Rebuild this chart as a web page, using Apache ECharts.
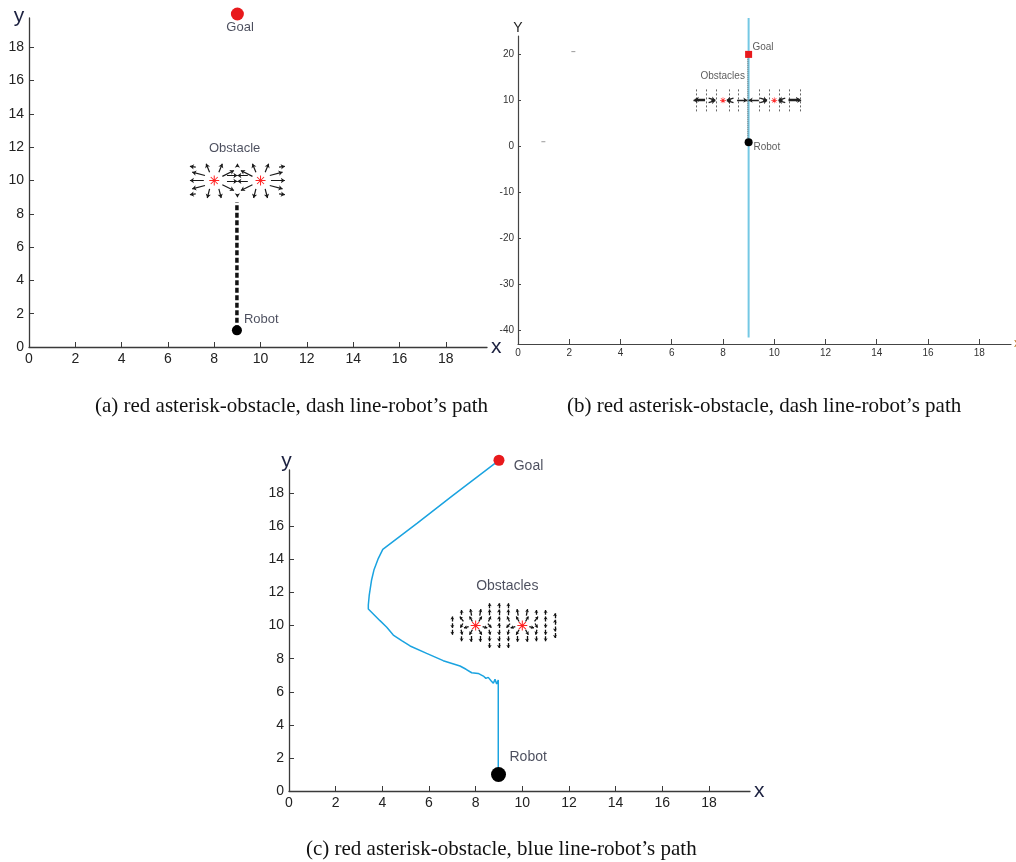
<!DOCTYPE html>
<html><head><meta charset="utf-8">
<script src="https://cdn.jsdelivr.net/npm/echarts@6/dist/echarts.min.js"></script>
<style>html,body{margin:0;padding:0;background:#fff}#c{width:1016px;height:862px}</style>
</head><body><div id="c"></div>
<script>
// ---------- data ----------
const xTickValues = [0, 2, 4, 6, 8, 10, 12, 14, 16, 18];
const yTickValuesAC = [0, 2, 4, 6, 8, 10, 12, 14, 16, 18];
const yTickValuesB = [-40, -30, -20, -10, 0, 10, 20];
const goalPoint = [9, 20];
const robotPoint = [8.98, 1];
const obstaclePoints = [[8, 10], [10, 10]];
const captionTexts = [
  '(a) red asterisk-obstacle, dash line-robot\u2019s path',
  '(b) red asterisk-obstacle, dash line-robot\u2019s path',
  '(c) red asterisk-obstacle, blue line-robot\u2019s path'
];

// (a) dashed path and radial repulsion arrows [x0, y0, x1, y1]
const pathA = [[8.98, 1], [8.98, 8.7]];
const quiverA = [
  [7.55,10.0,6.95,10.0],[7.6,10.3,7.05,10.5],[7.6,9.7,7.05,9.5],[7.2,10.8,6.95,10.85],[7.2,9.2,6.95,9.15],
  [7.8,10.5,7.65,11.0],[8.2,10.5,8.35,11.0],[7.8,9.5,7.7,8.95],[8.2,9.5,8.3,8.95],
  [8.35,10.25,8.85,10.6],[8.35,9.75,8.85,9.4],[8.55,10.3,9.0,10.3],[8.55,9.95,9.0,9.95],
  [10.45,10.0,11.05,10.0],[10.4,10.3,10.95,10.5],[10.4,9.7,10.95,9.5],[10.8,10.8,11.05,10.85],[10.8,9.2,11.05,9.15],
  [10.2,10.5,10.35,11.0],[9.8,10.5,9.65,11.0],[10.2,9.5,10.3,8.95],[9.8,9.5,9.7,8.95],
  [9.65,10.25,9.15,10.6],[9.65,9.75,9.15,9.4],[9.45,10.3,9.0,10.3],[9.45,9.95,9.0,9.95],
  [9.0,10.85,9.0,11.0],[9.0,9.15,9.0,9.0]
];
const labelsA = [['Goal', 8.5, 19.2], ['Obstacle', 7.75, 11.92], ['Robot', 9.26, 1.66]];

// (b)
const pathB = [[9, 27.9], [9, -41.6]];
const trailB = [[8.97, 1], [8.97, 19.5]];
const fieldColsB = [6.95, 7.35, 7.75, 8.25, 8.6, 9.4, 9.8, 10.2, 10.6, 11.0];
const fieldSpanB = [7.6, 12.8];
const quiverB = [
  [7.3,10.0,6.85,10.0],[7.3,10.2,6.9,10.2],[7.44,10.5,7.7,10.05],[7.44,9.5,7.7,9.95],
  [8.41,10.5,8.15,10.05],[8.41,9.5,8.15,9.95],[8.55,10.05,8.95,10.05],[9.4,10.05,9.0,10.05],
  [9.45,10.5,9.72,10.05],[9.45,9.5,9.72,9.95],[10.43,10.5,10.17,10.05],[10.43,9.5,10.17,9.95],
  [10.56,10.0,11.05,10.0],[10.56,10.2,11.0,10.2]
];
const strayB = [[2.16, 20.6], [0.99, 1.0]];
const labelsB = [['Goal', 9.13, 21.6], ['Obstacles', 7.1, 15.2], ['Robot', 9.17, -0.2]];

// (c) robot path and field arrows [x, y, dx, dy] (centred)
const pathC = [[8.97,1],[8.97,6.71],[8.9,6.47],[8.83,6.75],[8.76,6.51],[8.66,6.67],[8.54,6.87],[8.44,6.81],
  [8.33,6.95],[8.11,7.11],[7.83,7.15],[7.59,7.36],[7.33,7.56],[6.61,7.88],[5.9,8.32],[5.19,8.77],[4.83,9.09],
  [4.47,9.43],[4.19,9.9],[3.9,10.3],[3.4,11.0],[3.4,11.25],[3.44,11.85],[3.54,12.76],[3.64,13.36],[3.83,14.07],
  [4.02,14.61],[5.5,16.2],[7.0,17.85],[8.97,19.96]];
const quiverC = [
  [7.0,9.6,0,-0.3],[7.0,10.0,0,-0.3],[7.0,10.4,0,0.3],
  [7.4,9.2,0,-0.3],[7.4,9.6,0.05,-0.3],[7.4,10.0,-0.1,-0.25],[7.4,10.4,-0.15,0.3],[7.4,10.8,0,0.3],
  [7.8,9.2,0,-0.35],[7.8,9.6,-0.12,-0.3],[7.8,10.4,-0.12,0.3],[7.8,10.8,-0.05,0.4],
  [7.6,9.9,-0.2,-0.08],[8.4,9.9,0.2,-0.08],
  [8.2,9.2,0,-0.35],[8.2,9.6,0.12,-0.3],[8.2,10.4,0.12,0.3],[8.2,10.8,0.05,0.4],
  [8.6,8.8,0,-0.3],[8.6,9.2,0,-0.3],[8.6,9.6,0.05,-0.3],[8.6,10.0,0.15,-0.25],[8.6,10.4,0.1,0.3],[8.6,10.8,0,0.35],[8.6,11.2,0,0.3],
  [9.0,8.8,0,-0.3],[9.0,9.2,0,-0.3],[9.0,9.6,0,-0.3],[9.0,10.0,0,0.3],[9.0,10.4,0,0.3],[9.0,10.8,0,0.35],[9.0,11.2,0,0.3],
  [9.4,8.8,0,-0.3],[9.4,9.2,0,-0.3],[9.4,9.6,-0.05,-0.3],[9.4,10.0,-0.15,-0.25],[9.4,10.4,-0.1,0.3],[9.4,10.8,0,0.35],[9.4,11.2,0,0.3],
  [9.8,9.2,0,-0.35],[9.8,9.6,-0.12,-0.3],[9.8,10.4,-0.12,0.3],[9.8,10.8,-0.05,0.4],
  [9.6,9.9,-0.2,-0.08],[10.4,9.9,0.2,-0.08],
  [10.2,9.2,0,-0.35],[10.2,9.6,0.12,-0.3],[10.2,10.4,0.12,0.3],[10.2,10.8,0.05,0.4],
  [10.6,9.2,0,-0.3],[10.6,9.6,-0.05,-0.3],[10.6,10.0,0.1,-0.25],[10.6,10.4,0.15,0.3],[10.6,10.8,0,0.3],
  [11.0,9.2,0,-0.3],[11.0,9.6,0,-0.3],[11.0,10.0,0,-0.25],[11.0,10.4,0,0.3],[11.0,10.8,0,0.3],
  [11.4,9.4,0,-0.3],[11.4,9.8,0,-0.3],[11.4,10.2,0,0.3],[11.4,10.6,0,0.3]
];
const labelsC = [['Goal', 9.61, 19.66], ['Obstacles', 8.0, 12.36], ['Robot', 9.43, 2.04]];

// ---------- chart ----------
const fontSans = '"Liberation Sans", Arial, sans-serif';
const fontNarrow = '"Liberation Sans Narrow", "Arial Narrow", "Liberation Sans", sans-serif';
const captionFont = '21px "Liberation Serif", "Times New Roman", serif';
const asterisk = 'path://M-1,-10 L1,-10 L1,10 L-1,10 Z M-10,-1 L10,-1 L10,1 L-10,1 Z M-6.3,-7.7 L7.7,6.3 L6.3,7.7 L-7.7,-6.3 Z M6.3,-7.7 L7.7,-6.3 L-6.3,7.7 L-7.7,6.3 Z';

function xAxisCfg(gi, max, o) {
  return {
    type: 'value', gridIndex: gi, min: 0, max: max,
    name: o.name, nameLocation: 'end', nameGap: o.nameGap, nameTextStyle: o.nameStyle,
    axisLine: {show: true, onZero: false, lineStyle: {color: o.line, width: o.lw}},
    axisTick: {show: true, inside: true, length: o.tick, lineStyle: {color: o.line, width: 1}, customValues: xTickValues},
    axisLabel: {show: true, customValues: xTickValues, color: o.label, fontSize: o.fs, fontFamily: o.fam, margin: o.margin},
    splitLine: {show: false}
  };
}
function yAxisCfg(gi, min, max, ticks, o) {
  return {
    type: 'value', gridIndex: gi, min: min, max: max,
    name: o.name, nameLocation: 'end', nameGap: o.nameGap, nameTextStyle: o.nameStyle,
    axisLine: {show: true, onZero: false, lineStyle: {color: o.line, width: o.lw}},
    axisTick: {show: true, inside: true, length: o.tick, lineStyle: {color: o.line, width: 1}, customValues: ticks},
    axisLabel: {show: true, customValues: ticks, color: o.label, fontSize: o.fs, fontFamily: o.fam, margin: o.margin},
    splitLine: {show: false}
  };
}
function arrows(gi, segs, color, width, size, type) {
  return {type: 'lines', coordinateSystem: 'cartesian2d', xAxisIndex: gi, yAxisIndex: gi, silent: true, z: 3,
    symbol: size ? ['none', 'arrow'] : 'none', symbolSize: size || 0,
    lineStyle: {color: color, width: width, opacity: 1, curveness: 0, type: type || 'solid'},
    data: segs.map(s => ({coords: [[s[0], s[1]], [s[2], s[3]]]}))};
}
function marks(gi, pts, symbol, size, color) {
  return {type: 'scatter', xAxisIndex: gi, yAxisIndex: gi, silent: true, clip: false, z: 6,
    symbol: symbol, symbolSize: size, itemStyle: {color: color, opacity: 1}, data: pts};
}
function texts(gi, items, style) {
  return {type: 'scatter', xAxisIndex: gi, yAxisIndex: gi, silent: true, clip: false, z: 7,
    symbolSize: 1, itemStyle: {color: 'rgba(0,0,0,0)'},
    data: items.map(t => ({name: t[0], value: [t[1], t[2]]})),
    label: Object.assign({show: true, position: 'right', distance: 0, formatter: '{b}'}, style)};
}

const styleAC = {line: '#3a3a3a', lw: 1.3, tick: 5, label: '#222', fs: 14, fam: fontSans, margin: 5};
const nameXAC = {fontSize: 21, color: '#1c2140', fontFamily: fontSans, verticalAlign: 'middle'};
const styleB = {line: '#444', lw: 1.2, tick: 5, label: '#333', fs: 10, fam: fontNarrow, margin: 4};

const option = {
  animation: false,
  backgroundColor: '#fff',
  grid: [
    {left: 29, top: 18, width: 458, height: 329, outerBoundsMode: 'none', containLabel: false},
    {left: 518, top: 36, width: 493, height: 308, outerBoundsMode: 'none', containLabel: false},
    {left: 289, top: 470, width: 461, height: 321, outerBoundsMode: 'none', containLabel: false}
  ],
  xAxis: [
    xAxisCfg(0, 19.78, Object.assign({name: 'x', nameGap: 4, nameStyle: nameXAC}, styleAC)),
    xAxisCfg(1, 19.24, Object.assign({name: 'x', nameGap: 3, nameStyle: {fontSize: 12, color: '#c07a2a', fontFamily: fontNarrow, verticalAlign: 'middle'}}, styleB)),
    xAxisCfg(2, 19.76, Object.assign({name: 'x', nameGap: 4, nameStyle: nameXAC}, styleAC))
  ],
  yAxis: [
    yAxisCfg(0, 0, 19.76, yTickValuesAC, Object.assign({name: 'y', nameGap: -9,
      nameStyle: {fontSize: 21, color: '#1c2140', fontFamily: fontSans, padding: [0, 20, 0, 0]}}, styleAC)),
    yAxisCfg(1, -43, 24, yTickValuesB, Object.assign({name: 'Y', nameGap: 1, nameStyle: {fontSize: 14, color: '#222', fontFamily: fontNarrow}}, styleB, {tick: 3})),
    yAxisCfg(2, 0, 19.41, yTickValuesAC, Object.assign({name: 'y', nameGap: -2,
      nameStyle: {fontSize: 21, color: '#1c2140', fontFamily: fontSans, padding: [0, 5, 0, 0]}}, styleAC))
  ],
  series: [
    // (a)
    {type: 'line', xAxisIndex: 0, yAxisIndex: 0, data: pathA, symbol: 'none', silent: true, z: 2,
      lineStyle: {color: '#111', width: 3.5, type: [5, 2.5]}},
    arrows(0, quiverA, '#1a1a1a', 1.2, 4),
    marks(0, obstaclePoints, asterisk, 10, '#ff2222'),
    marks(0, [goalPoint], 'circle', 13, '#e8191c'),
    marks(0, [robotPoint], 'circle', 10, '#000'),
    texts(0, labelsA, {color: '#1e2235', fontSize: 13, fontFamily: fontSans}),
    // (b)
    {type: 'line', xAxisIndex: 1, yAxisIndex: 1, data: pathB, symbol: 'none', silent: true, clip: false, z: 1,
      lineStyle: {color: '#74c8e4', width: 2}},
    {type: 'line', xAxisIndex: 1, yAxisIndex: 1, data: trailB, symbol: 'none', silent: true, z: 2,
      lineStyle: {color: '#555', width: 1, type: 'dotted'}},
    arrows(1, fieldColsB.map(x => [x, fieldSpanB[0], x, fieldSpanB[1]]), '#666', 1, 0, [2, 2]),
    arrows(1, quiverB, '#222', 1.3, 4),
    marks(1, strayB, 'rect', [4, 1], '#999'),
    marks(1, obstaclePoints, asterisk, 6, '#ff2a2a'),
    marks(1, [goalPoint], 'rect', 7, '#e8191c'),
    marks(1, [[9, 0.9]], 'circle', 8, '#000'),
    texts(1, labelsB, {color: '#333', fontSize: 10, fontFamily: fontNarrow}),
    // (c)
    {type: 'line', xAxisIndex: 2, yAxisIndex: 2, data: pathC, symbol: 'none', silent: true, clip: false, z: 2,
      lineStyle: {color: '#1aa3e0', width: 1.5}},
    arrows(2, quiverC.map(a => [a[0] - a[2] / 2, a[1] - a[3] / 2, a[0] + a[2] / 2, a[1] + a[3] / 2]), '#111', 1.3, 3),
    marks(2, obstaclePoints, asterisk, 10, '#ff2222'),
    marks(2, [goalPoint], 'circle', 11, '#e8191c'),
    marks(2, [robotPoint], 'circle', 15, '#000'),
    texts(2, labelsC, {color: '#1e2235', fontSize: 14, fontFamily: fontSans})
  ],
  graphic: [
    {type: 'text', x: 95, y: 406, style: {text: captionTexts[0], font: captionFont, fill: '#111', align: 'left', verticalAlign: 'middle'}},
    {type: 'text', x: 567, y: 406, style: {text: captionTexts[1], font: captionFont, fill: '#111', align: 'left', verticalAlign: 'middle'}},
    {type: 'text', x: 306, y: 849, style: {text: captionTexts[2], font: captionFont, fill: '#111', align: 'left', verticalAlign: 'middle'}}
  ]
};
const chart = echarts.init(document.getElementById('c'), null, {renderer: 'canvas'});
chart.setOption(option);
</script></body></html>
